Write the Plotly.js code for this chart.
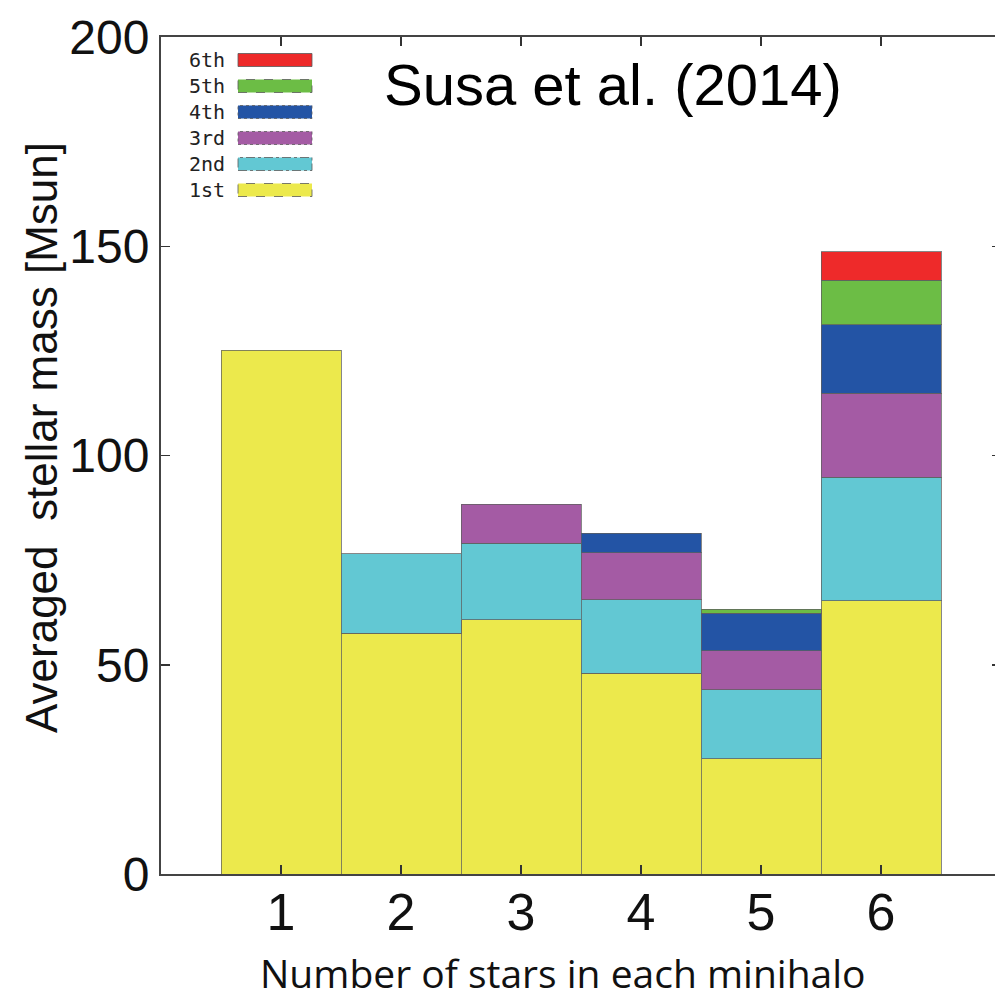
<!DOCTYPE html>
<html>
<head>
<meta charset="utf-8">
<script src="https://cdn.plot.ly/plotly-3.0.1.min.js"></script>
<style>
html,body{margin:0;padding:0;overflow:hidden;background:#fff;}
#chart{width:1002px;height:1001px;}
</style>
</head>
<body>
<div id="chart"></div>
<script>
// ---- data ----
const categories = [1, 2, 3, 4, 5, 6];
const seriesNames = ["1st", "2nd", "3rd", "4th", "5th", "6th"];
const first  = [125.2, 57.5, 60.7, 48.0, 27.5, 65.3];
const second = [null, 19.0, 18.3, 17.5, 16.5, 29.5];
const third  = [null, null, 9.4, 11.3, 9.4, 20.1];
const fourth = [null, null, null, 4.6, 8.9, 16.3];
const fifth  = [null, null, null, null, 1.0, 10.7];
const sixth  = [null, null, null, null, null, 6.8];
const yTicks = [0, 50, 100, 150, 200];
const xTickLabels = ["1", "2", "3", "4", "5", "6"];

const seriesValues = [first, second, third, fourth, fifth, sixth];
const colors = ["#ece94c", "#62c8d3", "#a45ba4", "#2354a5", "#6cbd45", "#ee2a2a"];
const swatchDash = ["dash", "dashdot", "dot", "dot", "dash", "solid"];

const traces = seriesValues.map((vals, i) => ({
  type: "bar",
  name: seriesNames[i],
  x: categories,
  y: vals,
  width: 1,
  marker: { color: colors[i], line: { color: "rgba(95,95,95,0.75)", width: 1 } },
  showlegend: false,
  hoverinfo: "x+y+name"
}));

// custom legend (text left of wide swatch), top to bottom: 6th ... 1st
const plotH = 837, plotW = 840;
const shapes = [];
const annotations = [];
for (let k = 0; k < seriesNames.length; k++) {
  const idx = seriesNames.length - 1 - k;
  const cy = 23 + 26 * k;            // px below top of plot area
  const yc = 1 - cy / plotH;
  const hh = 6.5 / plotH;
  shapes.push({
    type: "rect", xref: "paper", yref: "paper",
    x0: 77 / plotW, x1: 151 / plotW, y0: yc - hh, y1: yc + hh,
    fillcolor: colors[idx],
    line: { color: "rgba(90,90,90,0.8)", width: 1, dash: swatchDash[idx] }
  });
  annotations.push({
    xref: "paper", yref: "paper", x: 66 / plotW, y: yc,
    xanchor: "right", yanchor: "middle", showarrow: false,
    text: seriesNames[idx],
    font: { family: "DejaVu Sans Mono", size: 20, color: "#222" }
  });
}
annotations.push({
  xref: "paper", yref: "paper", x: 0.538, y: 0.943,
  xanchor: "center", yanchor: "middle", showarrow: false,
  text: "Susa et al. (2014)",
  font: { family: "Liberation Sans, Arial", size: 58, color: "#000" }
});
// axis titles placed as in the reference (slightly off-centre)
annotations.push({
  xref: "paper", yref: "paper", x: -120 / plotW, y: (874 - 438) / plotH,
  xanchor: "center", yanchor: "middle", showarrow: false, textangle: -90,
  text: "Averaged  stellar mass [Msun]",
  font: { family: "Liberation Sans, Arial", size: 44, color: "#111" }
});
annotations.push({
  xref: "paper", yref: "paper", x: (563 - 161) / plotW, y: -(973 - 874) / plotH,
  xanchor: "center", yanchor: "middle", showarrow: false,
  text: "Number of stars in each minihalo",
  font: { family: "Open Sans, Noto Sans", size: 39, color: "#111" }
});

const layout = {
  width: 1002, height: 1001,
  margin: { l: 161, r: 1, t: 37, b: 127 },
  paper_bgcolor: "#fff", plot_bgcolor: "#fff",
  barmode: "stack", bargap: 0,
  showlegend: false,
  xaxis: {
    range: [0, 7],
    tickvals: categories, ticktext: xTickLabels,
    ticks: "inside", ticklen: 9, tickwidth: 1.5, tickcolor: "#333",
    showline: true, linecolor: "#444", linewidth: 2, mirror: "ticks",
    showgrid: false, zeroline: false,
    tickfont: { family: "Liberation Sans, Arial", size: 52, color: "#111" },
    ticklabelstandoff: -8
  },
  yaxis: {
    range: [0, 200],
    tickvals: yTicks,
    ticks: "inside", ticklen: 9, tickwidth: 1.5, tickcolor: "#333",
    showline: true, linecolor: "#444", linewidth: 2, mirror: "ticks",
    showgrid: false, zeroline: false,
    tickfont: { family: "Liberation Sans, Arial", size: 48, color: "#111" },
    ticklabelstandoff: 0
  },
  shapes: shapes,
  annotations: annotations
};

Plotly.newPlot("chart", traces, layout, { displayModeBar: false, staticPlot: true });
</script>
</body>
</html>
